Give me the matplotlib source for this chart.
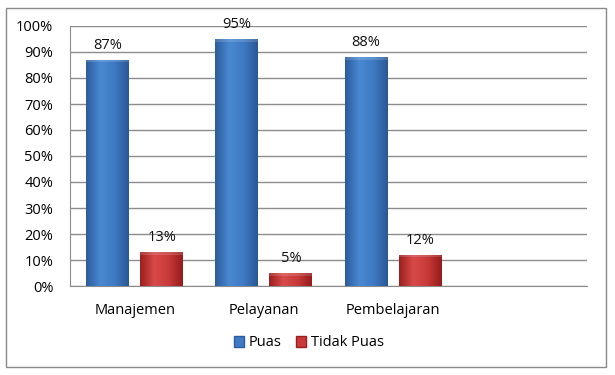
import numpy as np
import matplotlib
matplotlib.use("Agg")
import matplotlib.pyplot as plt
from matplotlib.patches import Rectangle, Patch
from matplotlib.colors import LinearSegmentedColormap

plt.rcParams['font.family'] = ['Open Sans', 'DejaVu Sans']

# data
categories = ['Manajemen', 'Pelayanan', 'Pembelajaran', '']
puas = [87, 95, 88]
tidak_puas = [13, 5, 12]
yticks = list(range(0, 101, 10))

blue_cmap = LinearSegmentedColormap.from_list('b', ['#2c5d9c', '#4a88d2', '#3f7ac4', '#2a5896'])
red_cmap = LinearSegmentedColormap.from_list('r', ['#9c1f1f', '#d84a4a', '#c83a3a', '#961c1c'])

fig = plt.figure(figsize=(6.15, 3.75), dpi=100)
ax = fig.add_axes([70 / 615, 89 / 375, 517 / 615, 260 / 375])

x = np.arange(len(categories))
w = 0.332
off = 0.209


def shade(bars, cmap):
    grad = np.linspace(0, 1, 64).reshape(1, -1)
    for b in bars:
        x0, y0 = b.get_x(), b.get_y()
        ext = [x0, x0 + b.get_width(), y0, y0 + b.get_height()]
        im = ax.imshow(grad, cmap=cmap, extent=ext, aspect='auto', zorder=3, interpolation='bicubic')
        im.set_clip_path(b)
        # soft top bevel
        ax.add_patch(Rectangle((x0, y0 + b.get_height() - 1.0), b.get_width(), 1.0,
                               color='white', alpha=0.15, lw=0, zorder=4))


b1 = ax.bar(x[:3] - off, puas, w, color='#3f7ac4', zorder=2, lw=0)
b2 = ax.bar(x[:3] + off, tidak_puas, w, color='#c83a3a', zorder=2, lw=0)
shade(b1, blue_cmap)
shade(b2, red_cmap)

for i in range(3):
    ax.text(x[i] - off, puas[i] + 2.6, f'{puas[i]}%', ha='center', va='bottom', fontsize=10.5, color='#111111')
    ax.text(x[i] + off, tidak_puas[i] + 2.6, f'{tidak_puas[i]}%', ha='center', va='bottom', fontsize=10.5, color='#111111')

ax.set_xlim(-0.5, len(categories) - 0.5)
ax.set_ylim(0, 100)
ax.set_yticks(yticks)
ax.set_yticklabels([f'{v}%' for v in yticks], fontsize=10.5)
ax.set_xticks(x)
ax.set_xticklabels(categories, fontsize=10.5)
ax.tick_params(axis='y', length=0, pad=12)
ax.tick_params(axis='x', length=0, pad=12)
ax.grid(axis='y', color='#8c8c8c', lw=1, zorder=0)
ax.set_axisbelow(True)
for s in ['top', 'right']:
    ax.spines[s].set_visible(False)
for s in ['left', 'bottom']:
    ax.spines[s].set_color('#8c8c8c')

handles = [Patch(facecolor='#3f7ac4', edgecolor='#2c5d9c', label='Puas'),
           Patch(facecolor='#c83a3a', edgecolor='#9c1f1f', label='Tidak Puas')]
fig.legend(handles=handles, loc='center', bbox_to_anchor=(309 / 615, 1 - 343 / 375),
           ncol=2, frameon=False, fontsize=10.5, handlelength=0.7, handleheight=0.7,
           handletextpad=0.3, columnspacing=1.0)

fig.patches.append(Rectangle((6 / 615, 8 / 375), 600 / 615, 359 / 375, transform=fig.transFigure,
                             fill=False, edgecolor='#8a8a8a', lw=1))

fig.savefig('out.png', dpi=100)
